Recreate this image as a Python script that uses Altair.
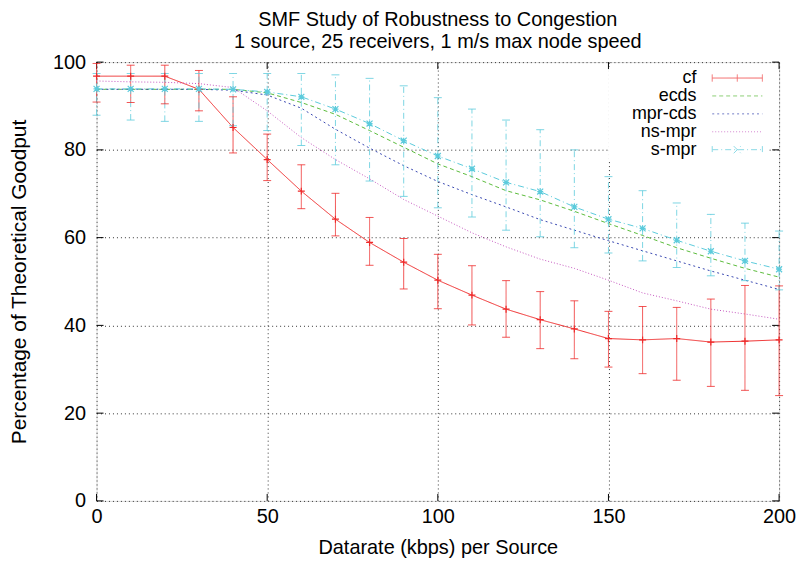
import altair as alt
import pandas as pd

# ---------------- data ----------------
X = [0, 10, 20, 30, 40, 50, 60, 70, 80, 90, 100, 110, 120, 130, 140, 150, 160, 170, 180, 190, 200]

cf_y = [96.8, 96.8, 96.8, 93.8, 85.1, 77.8, 70.6, 64.2, 58.9, 54.4, 50.3, 46.9, 43.7, 41.3, 39.2, 37.0, 36.7, 37.0, 36.2, 36.4, 36.7]
cf_lo = [90.9, 90.8, 90.5, 88.9, 79.3, 73.0, 66.6, 60.4, 53.7, 48.3, 43.8, 40.1, 37.3, 34.7, 32.4, 30.5, 29.0, 27.5, 26.1, 25.2, 24.0]
cf_hi = [99.7, 99.3, 99.3, 98.1, 92.1, 83.6, 76.6, 70.1, 64.6, 59.8, 56.2, 53.6, 50.2, 47.7, 45.6, 43.2, 44.3, 44.1, 46.0, 49.1, 49.0]

ecds_y = [93.8, 93.8, 93.8, 93.8, 93.8, 93.0, 90.8, 88.1, 84.4, 80.6, 76.8, 73.9, 70.7, 68.6, 66.0, 63.2, 60.5, 57.7, 55.3, 53.0, 51.0]
mprcds_y = [93.8, 93.8, 93.8, 93.8, 93.6, 92.5, 89.5, 84.7, 80.4, 76.4, 72.8, 69.8, 67.0, 64.1, 61.7, 59.3, 57.0, 54.7, 52.4, 50.3, 48.2]
nsmpr_y = [95.7, 95.5, 95.4, 95.1, 94.2, 88.9, 82.8, 77.8, 73.4, 68.7, 64.9, 61.1, 57.9, 55.1, 53.0, 50.3, 47.4, 45.6, 43.7, 42.6, 41.4]

smpr_y = [93.9, 93.9, 93.9, 93.9, 93.8, 93.2, 92.1, 89.3, 86.0, 82.1, 78.6, 75.7, 72.6, 70.5, 67.0, 64.2, 62.1, 59.4, 56.9, 54.7, 52.8]
smpr_lo = [87.9, 86.8, 86.5, 86.5, 85.5, 84.4, 81.0, 76.6, 72.9, 69.4, 66.8, 64.7, 61.7, 60.2, 57.7, 56.5, 54.7, 53.2, 51.3, 50.2, 48.1]
smpr_hi = [97.4, 97.4, 97.4, 97.4, 97.4, 97.4, 97.4, 97.1, 96.3, 94.6, 91.9, 89.3, 86.8, 84.6, 80.0, 73.9, 70.7, 67.9, 65.3, 63.3, 61.5]

SERIES = ["cf", "ecds", "mpr-cds", "ns-mpr", "s-mpr"]
COLORS = ["#ee2a2a", "#5cbb3c", "#3848b0", "#c658c0", "#5ccbdc"]
DASHES = [[1, 0], [4, 3], [2, 3], [1, 2], [6, 3, 1, 3]]

X_TICKS = [0, 50, 100, 150, 200]
Y_TICKS = [0, 20, 40, 60, 80, 100]

# legend sample paths (line with error caps/markers)
LEG_LINE = "M-6.3,0L6.3,0"
LEG_CF = "M-6.3,0L6.3,0M-6.3,-0.9L-6.3,0.9M6.3,-0.9L6.3,0.9M0,-0.9L0,0.9"
LEG_SMPR = "M-6.3,0L6.3,0M-6.3,-0.9L-6.3,0.9M6.3,-0.9L6.3,0.9M-0.9,-0.9L0.9,0.9M-0.9,0.9L0.9,-0.9"
LEG_SHAPES = [LEG_CF, LEG_LINE, LEG_LINE, LEG_LINE, LEG_SMPR]

PLUS = "M-1,0L1,0M0,-1L0,1"
STAR = "M-1,-1L1,1M-1,1L1,-1M-1,0L1,0M0,-1L0,1"

rows = []
for name, yv in zip(SERIES, [cf_y, ecds_y, mprcds_y, nsmpr_y, smpr_y]):
    for i, x in enumerate(X):
        rec = {"series": name, "x": x, "y": yv[i]}
        if name == "cf":
            rec["lo"], rec["hi"] = cf_lo[i], cf_hi[i]
        elif name == "s-mpr":
            rec["lo"], rec["hi"] = smpr_lo[i], smpr_hi[i]
        rows.append(rec)
df = pd.DataFrame(rows)

W, H = 686, 441
FONT = "Liberation Sans"
FS = 20

xs = alt.Scale(domain=[0, 200], nice=False, zero=False)
ys = alt.Scale(domain=[0, 100], nice=False)

color = alt.Color("series:N", scale=alt.Scale(domain=SERIES, range=COLORS),
                  legend=alt.Legend(title=None, orient="none", legendX=515, legendY=5,
                                    labelAlign="right", labelOffset={"expr": "-50"}, symbolOffset=118,
                                    labelFontSize=18, labelFont=FONT, labelColor="black",
                                    symbolSize=64, symbolStrokeWidth=1,
                                    rowPadding=0, fillColor="white", padding=2))
dash = alt.StrokeDash("series:N", scale=alt.Scale(domain=SERIES, range=DASHES), legend=None)

base = alt.Chart(df)

xaxis = alt.Axis(values=X_TICKS, grid=True, gridDash=[1, 3], gridColor="#333", ticks=False,
                 domain=False, labelFontSize=FS, labelFont=FONT, labelColor="black",
                 labelPadding=6, labelFlush=False, title="Datarate (kbps) per Source",
                 titleFontSize=FS, titleFont=FONT, titleFontWeight="normal", titleColor="black",
                 titleY=53, titleBaseline="alphabetic")
yaxis = alt.Axis(values=Y_TICKS, grid=True, gridDash=[1, 3], gridColor="#333", ticks=False,
                 domain=False, labelFontSize=FS, labelFont=FONT, labelColor="black",
                 labelPadding=11, title="Percentage of Theoretical Goodput",
                 titleFontSize=21, titleFont=FONT, titleFontWeight="normal", titleColor="black",
                 titleX=-77, titleY=H / 2, titleAngle=-90, titleBaseline="middle", titleAlign="center")

lines = base.mark_line(strokeWidth=1).encode(
    x=alt.X("x:Q", scale=xs, axis=xaxis),
    y=alt.Y("y:Q", scale=ys, axis=yaxis),
    color=color,
    strokeDash=dash,
)

legend_layer = base.transform_filter(alt.FieldOneOfPredicate(field="series", oneOf=["cf", "s-mpr"])).mark_point(
    strokeWidth=0, filled=False).encode(
    x="x:Q", y="y:Q", color=color,
    shape=alt.Shape("series:N", scale=alt.Scale(domain=SERIES, range=LEG_SHAPES), legend=None),
)

err = base.transform_filter("isValid(datum.lo)")
bars = err.mark_rule(strokeWidth=1, opacity=0.8).encode(
    x="x:Q", y="lo:Q", y2="hi:Q",
    color=alt.Color("series:N", scale=alt.Scale(domain=SERIES, range=COLORS), legend=None),
    strokeDash=alt.StrokeDash("series:N", scale=alt.Scale(domain=SERIES, range=DASHES), legend=None),
)
caps_lo = err.mark_tick(orient="horizontal", size=8, thickness=1, opacity=0.8).encode(
    x="x:Q", y="lo:Q",
    color=alt.Color("series:N", scale=alt.Scale(domain=SERIES, range=COLORS), legend=None),
)
caps_hi = err.mark_tick(orient="horizontal", size=8, thickness=1, opacity=0.8).encode(
    x="x:Q", y="hi:Q",
    color=alt.Color("series:N", scale=alt.Scale(domain=SERIES, range=COLORS), legend=None),
)

pts_cf = base.transform_filter(alt.datum.series == "cf").mark_point(
    shape=PLUS, size=49, strokeWidth=1.2, filled=False, color=COLORS[0], opacity=1).encode(x="x:Q", y="y:Q")
pts_smpr = base.transform_filter(alt.datum.series == "s-mpr").mark_point(
    shape=STAR, size=36, strokeWidth=1.2, filled=False, color=COLORS[4], opacity=1).encode(x="x:Q", y="y:Q")

# inward tick marks on all four sides
tx = pd.DataFrame({"t": X_TICKS})
ty = pd.DataFrame({"t": Y_TICKS})
tick_b = alt.Chart(tx).mark_rule(color="black").encode(x="t:Q", y=alt.value(H), y2=alt.value(H - 7))
tick_t = alt.Chart(tx).mark_rule(color="black").encode(x="t:Q", y=alt.value(0), y2=alt.value(7))
tick_l = alt.Chart(ty).mark_rule(color="black").encode(y="t:Q", x=alt.value(0), x2=alt.value(7))
tick_r = alt.Chart(ty).mark_rule(color="black").encode(y="t:Q", x=alt.value(W), x2=alt.value(W - 7))

chart = alt.layer(
    tick_b, tick_t, tick_l, tick_r,
    lines, bars, caps_lo, caps_hi, pts_cf, pts_smpr, legend_layer,
).resolve_scale(color="shared").properties(
    width=W, height=H,
    title=alt.TitleParams(
        text=["SMF Study of Robustness to Congestion", "1 source, 25 receivers, 1 m/s max node speed"],
        fontSize=FS, font=FONT, fontWeight="normal", color="black", anchor="middle",
        lineHeight=22, offset=0),
    autosize=alt.AutoSizeParams(type="none"),
    padding={"left": 89, "top": 53, "right": 18, "bottom": 57},
).configure_view(stroke="black", strokeWidth=1.2).configure(background="white")

chart.save("out.html", embed_options={"renderer": "svg", "actions": False})
